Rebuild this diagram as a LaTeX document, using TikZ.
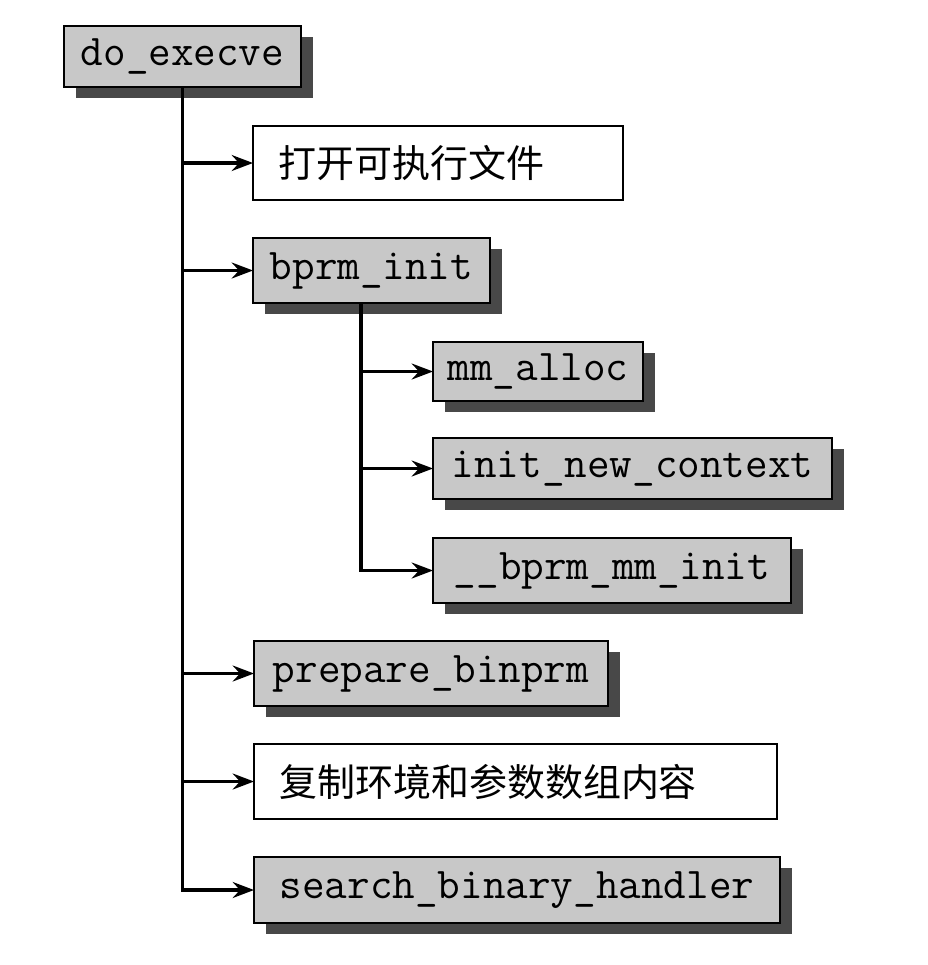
\documentclass[tikz,border=0pt]{standalone}
\usepackage{fontspec}
\newfontfamily\cjk{Noto Sans CJK SC}
\usepackage{xcolor}
\definecolor{Col1}{RGB}{200,200,200}
\definecolor{Col2}{RGB}{72,72,72}
\usepackage{tikz}
\usetikzlibrary{shadows}
\usetikzlibrary{arrows.meta}
\tikzstyle{Node}=[draw=black,line width=1.4pt,fill=Col1,anchor=north west,
inner sep=0pt,outer sep=0pt,font=\fontsize{32.9}{34}\selectfont\ttfamily,
drop shadow={shadow xshift=9pt,shadow yshift=-8.25pt,fill=Col2,opacity=1}]
\tikzstyle{NodeCJK}=[draw=black,line width=1.4pt,fill=white,anchor=north west,
inner xsep=18.75pt,inner ysep=0pt,outer sep=0pt,align=left,
font=\fontsize{28.5}{30}\selectfont\cjk]
\tikzstyle{Edge}=[draw=black,line width=2.3pt,
-{Stealth[length=16pt,width=12pt,inset=5.5pt]}]

\begin{document}
\begin{tikzpicture}[x=0.75pt,y=0.75pt]
            \useasboundingbox(0,0)rectangle(928,-965);
            \node[Node,minimum width=177.75pt,minimum height=45.75pt](0)
                at(64,-26){do\_execve};
            \node[NodeCJK,text width=240pt,minimum height=55.5pt](1)
                at(253,-126){打开可执行文件};
            \node[Node,minimum width=177.75pt,minimum height=48.75pt](2)
                at(253,-238){bprm\_init};
            \node[Node,minimum width=157.5pt,minimum height=44.25pt](3)
                at(433,-342){mm\_alloc};
            \node[Node,minimum width=299.25pt,minimum height=45.75pt](4)
                at(433,-438){init\_new\_context};
            \node[Node,minimum width=268.5pt,minimum height=48.75pt](5)
                at(433,-538){\_\_bprm\_mm\_init};
            \node[Node,minimum width=265.5pt,minimum height=48.75pt](6)
                at(254,-641){prepare\_binprm};
            \node[NodeCJK,text width=354.75pt,minimum height=56.25pt](7)
                at(254,-744){复制环境和参数数组内容};
            \node[Node,minimum width=394.5pt,minimum height=49.5pt](8)
                at(254,-857){search\_binary\_handler};
            \coordinate(s)at(361,-303);
            \draw[Edge](0.south)|-(8.west);
            \draw[Edge](0.south|-1.west)--(1.west);
            \draw[Edge](0.south|-2.west)--(2.west);
            \draw[Edge](0.south|-6.west)--(6.west);
            \draw[Edge](0.south|-7.west)--(7.west);
            \draw[Edge](s)|-(5.west);
            \draw[Edge](s|-3.west)--(3.west);
            \draw[Edge](s|-4.west)--(4.west);
        \end{tikzpicture}
\end{document}
